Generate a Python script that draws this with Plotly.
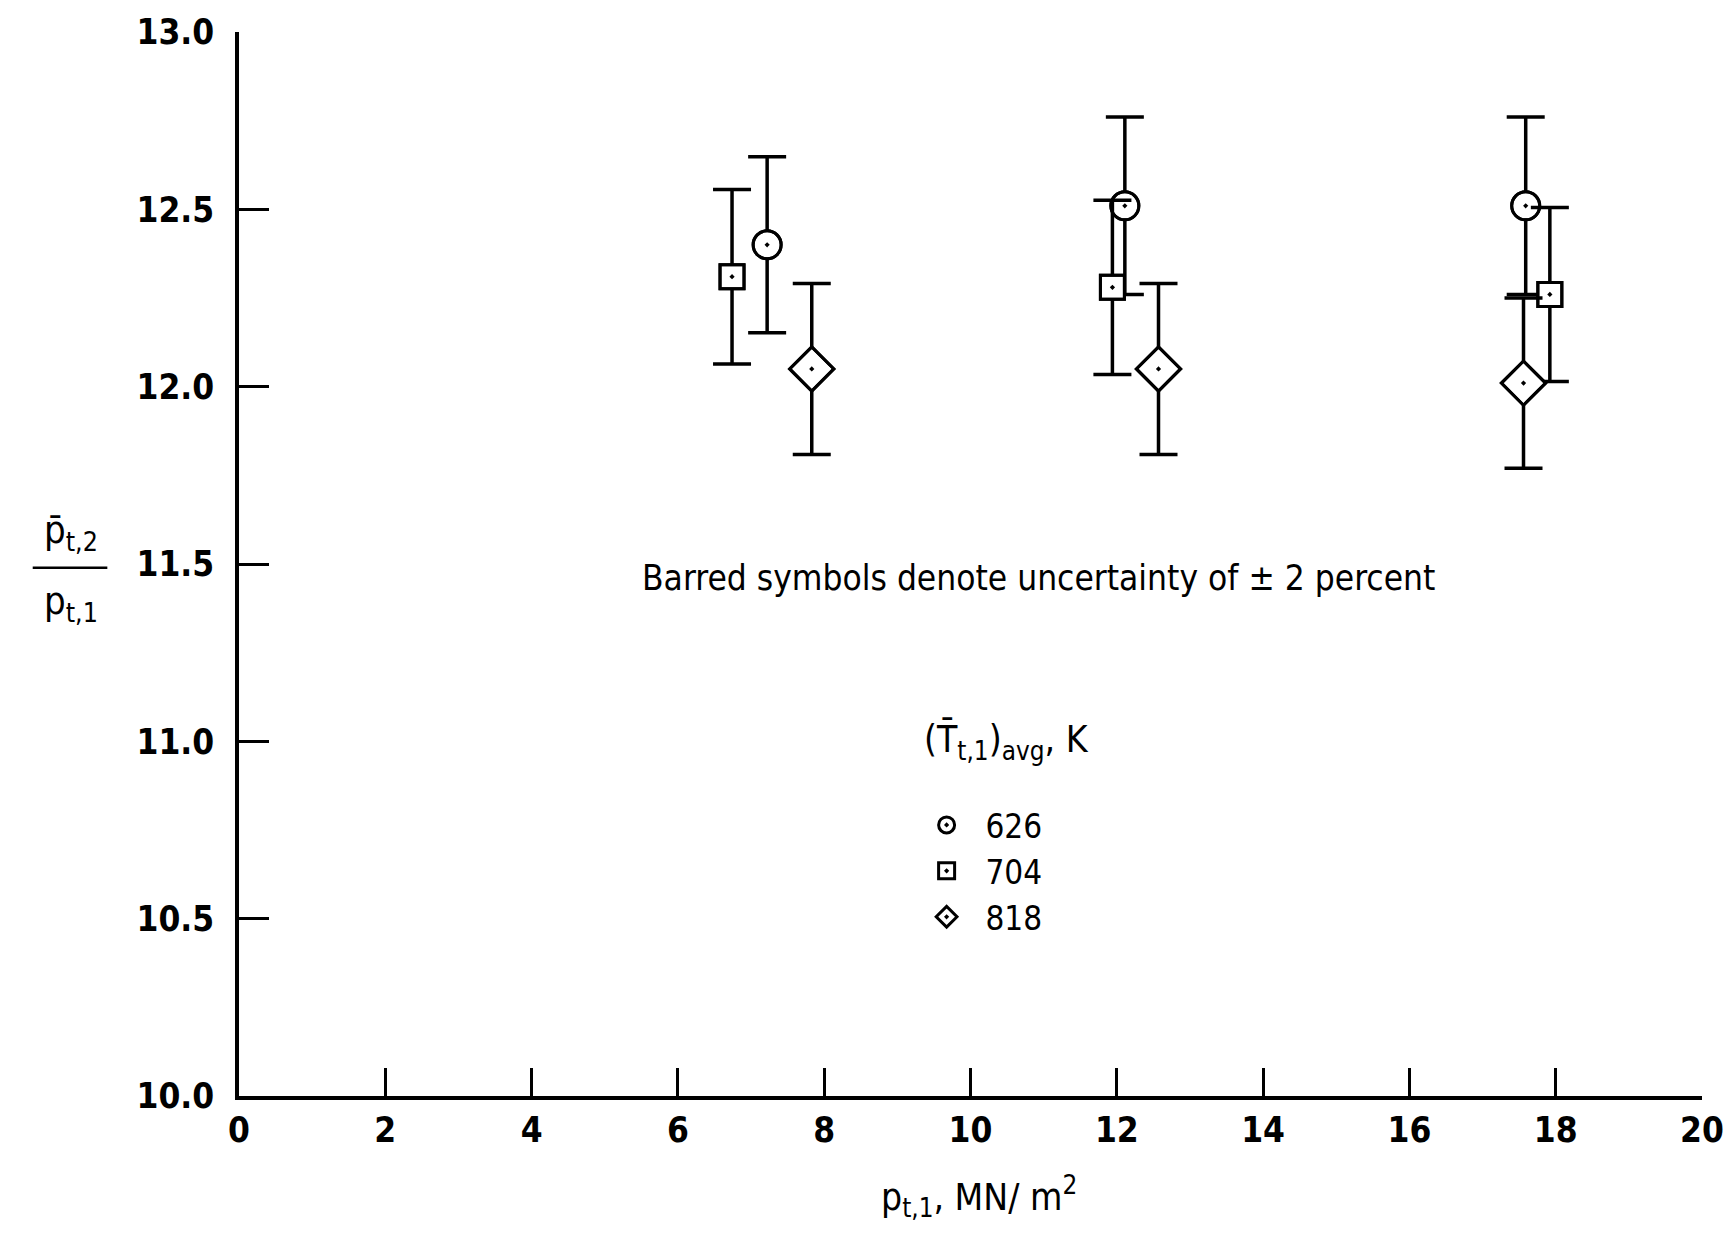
import plotly.graph_objects as go

# ---- data ----
temps = ["626", "704", "818"]
x_626 = [7.22, 12.11, 17.59]
y_626 = [12.40, 12.51, 12.51]
x_704 = [6.74, 11.94, 17.92]
y_704 = [12.31, 12.28, 12.26]
x_818 = [7.83, 12.57, 17.56]
y_818 = [12.05, 12.05, 12.01]
uncert_pct = 2.0

x_ticks = [0, 2, 4, 6, 8, 10, 12, 14, 16, 18, 20]
y_ticks = [10.0, 10.5, 11.0, 11.5, 12.0, 12.5, 13.0]
y_tick_text = ["10.0", "10.5", "11.0", "11.5", "12.0", "12.5", "13.0"]

FONT = "DejaVu Sans Condensed, Liberation Sans Narrow, sans-serif"

series = [
    (temps[0], x_626, y_626, "circle", 28),
    (temps[1], x_704, y_704, "square", 24),
    (temps[2], x_818, y_818, "diamond", 34),
]

fig = go.Figure()

# error bars with white filled markers
for name, xs, ys, sym, size in series:
    fig.add_trace(go.Scatter(
        x=xs, y=ys, mode="markers", showlegend=False, hoverinfo="skip",
        marker=dict(symbol=sym, size=size, color="white",
                    line=dict(color="black", width=3)),
        error_y=dict(type="percent", value=uncert_pct, color="black",
                     thickness=3.5, width=19),
    ))
# open-dot symbols on top (also used for legend)
for name, xs, ys, sym, size in series:
    fig.add_trace(go.Scatter(
        x=xs, y=ys, mode="markers", name="\u00a0\u00a0" + name,
        marker=dict(symbol=sym + "-open-dot", size=size, color="black",
                    line=dict(color="black", width=3)),
    ))

fig.update_layout(
    width=1736, height=1245,
    margin=dict(l=239, r=24, t=24, b=149),
    paper_bgcolor="white", plot_bgcolor="white",
    font=dict(family=FONT, color="black", size=30),
    legend=dict(
        x=0.47, y=0.281, xanchor="left", yanchor="top",
        bgcolor="rgba(0,0,0,0)",
        font=dict(size=33, family=FONT),
        itemsizing="trace",
    ),
    xaxis=dict(
        range=[0, 20], tickvals=x_ticks, ticktext=[str(t) for t in x_ticks],
        showgrid=False, zeroline=False, showline=True, linecolor="black",
        linewidth=3.5, ticks="inside", ticklen=28, tickwidth=2.5,
        tickcolor="black", tickfont=dict(size=35, weight="bold"),
        ticklabelstandoff=0,
    ),
    yaxis=dict(
        range=[10, 13], tickvals=y_ticks, ticktext=y_tick_text,
        showgrid=False, zeroline=False, showline=True, linecolor="black",
        linewidth=3.5, ticks="inside", ticklen=30, tickwidth=2.5,
        tickcolor="black", tickfont=dict(size=35, weight="bold"),
        ticklabelstandoff=14,
    ),
    annotations=[
        dict(text="Barred symbols denote uncertainty of ± 2 percent",
             x=10.93, y=11.46, xref="x", yref="y", showarrow=False,
             font=dict(size=35)),
        dict(text="(T̄<sub>t,1</sub>)<sub>avg</sub>, K",
             x=0.467, y=0.333, xref="paper", yref="paper", showarrow=False,
             xanchor="left", yanchor="middle", font=dict(size=37)),
        dict(text="p<sub>t,1</sub>, MN/ m<sup>2</sup>",
             x=0.506, y=-0.068, xref="paper", yref="paper", showarrow=False,
             xanchor="center", yanchor="top", font=dict(size=37)),
        dict(text="p̄<sub>t,2</sub>",
             x=-0.115, y=0.505, xref="paper", yref="paper", showarrow=False,
             xanchor="center", yanchor="bottom", font=dict(size=38)),
        dict(text="p<sub>t,1</sub>",
             x=-0.115, y=0.488, xref="paper", yref="paper", showarrow=False,
             xanchor="center", yanchor="top", font=dict(size=38)),
    ],
    shapes=[
        dict(type="line", xref="paper", yref="paper",
             x0=-0.141, x1=-0.09, y0=0.4965, y1=0.4965,
             line=dict(color="black", width=2.5)),
    ],
)

fig.write_html("out.html")
